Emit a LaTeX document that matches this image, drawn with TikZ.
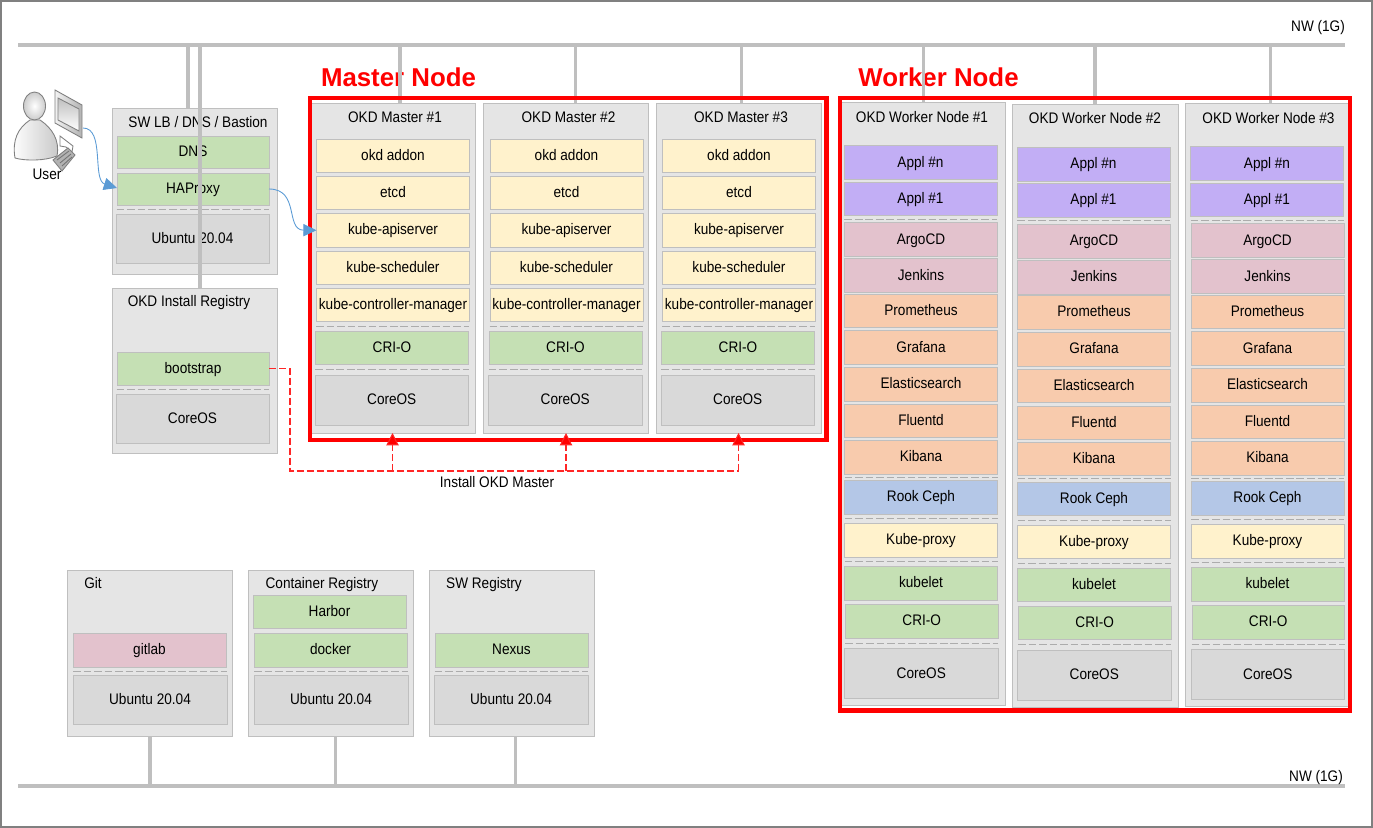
\documentclass[tikz,border=0pt]{standalone}
\usepackage{fontspec}
\setmainfont{Liberation Sans}[FakeStretch=0.89]
\newfontfamily\titlefont{Liberation Sans}
\usepackage{tikz}
\usetikzlibrary{calc,arrows.meta}
\definecolor{lineGray}{HTML}{BFBFBF}
\definecolor{groupGray}{HTML}{E5E5E5}
\definecolor{osGray}{HTML}{D9D9D9}
\definecolor{addonYellow}{HTML}{FFF2CC}
\definecolor{runGreen}{HTML}{C5E0B4}
\definecolor{applPurple}{HTML}{C2AEF5}
\definecolor{toolPink}{HTML}{E3C2CD}
\definecolor{logOrange}{HTML}{F8CBAD}
\definecolor{cephBlue}{HTML}{B4C7E7}
\definecolor{arrowBlue}{HTML}{5B9BD5}
% box from corner (x1,y1) to corner (x2,y2)
\newcommand{\boxcell}[7]{\node[#1,minimum width={(#5-#3)*0.02cm},minimum height={(#6-#4)*0.02cm}] (#2) at ({(#3+#5)/2},{(#4+#6)/2}) {#7};}
% dashed line half way between two stacked boxes
\newcommand{\sepline}[2]{\draw[sepline] ($(#1.south west)!.5!(#2.north west)$) -- ($(#1.south east)!.5!(#2.north east)$);}
\begin{document}
\begin{tikzpicture}[
  x=0.02cm,y=-0.02cm,
  cell/.style={
    rectangle,
    draw=lineGray,
    line width=0.5pt,
    inner sep=0pt,
    outer sep=0pt,
    align=center,
    font=\fontsize{8.7}{10}\selectfont,
    text height=.72em,
    text depth=.2em
  },
  group/.style={cell,fill=groupGray},
  yellow/.style={cell,fill=addonYellow},
  green/.style={cell,fill=runGreen},
  os/.style={cell,fill=osGray},
  purple/.style={cell,fill=applPurple},
  pink/.style={cell,fill=toolPink},
  orange/.style={cell,fill=logOrange},
  ceph/.style={cell,fill=cephBlue},
  boxtitle/.style={inner sep=0pt,font=\fontsize{8.7}{10}\selectfont,text height=.72em,text depth=.2em},
  redtitle/.style={inner sep=0pt,text=red,font=\titlefont\fontsize{14.7}{16}\selectfont\bfseries},
  redframe/.style={rectangle,draw=red,line width=2.3pt,inner sep=0pt},
  nwbus/.style={draw=lineGray,line width=2.2pt},
  nwdrop/.style={draw=lineGray,line width=1.8pt},
  sepline/.style={draw=lineGray!90!black,line width=0.5pt,dash pattern=on 4.4pt off 1.6pt},
  userflow/.style={draw=arrowBlue,line width=0.5pt,-{Triangle[length=7.5pt,width=7pt,fill=arrowBlue]}},
  install/.style={draw=red!85!white,line width=0.6pt,dash pattern=on 4pt off 1.7pt},
  icon/.style={draw=black!50,line width=0.5pt}
 ]
 \useasboundingbox (0,0) rectangle (1373,828);
 \node[rectangle,draw=black!50,line width=1.5pt,minimum width=27.42cm,minimum height=16.52cm,inner sep=0pt] (page) at (686.5,414) {};

 %user
 \shade[icon,left color=black!5,right color=black!30] (55,90) -- (82,105) -- (82,138) -- (55,123) -- cycle;
 \shade[icon,top color=black!25,bottom color=white] (58,98) -- (79,109) -- (79,131) -- (58,120) -- cycle;
 \draw[icon,fill=white] (60,136) -- (73,146) -- (72,152) -- (66,147) -- (60,146) -- cycle;
 \draw[icon,fill=black!30] (53,160) -- (68,148) -- (75,155) -- (62,171) -- cycle;
 \draw[black!55,line width=0.5pt] (57,160) -- (69,151) (60,163) -- (71,154) (62,166) -- (72,157);
 \shade[icon,left color=white,right color=black!22] (15,158) .. controls (12,140) and (18,128) .. (30,120) -- (40,120) .. controls (52,128) and (60,140) .. (57,156) .. controls (45,161) and (25,161) .. (15,158) -- cycle;
 \shade[icon,inner color=white,outer color=black!20] (34.5,106) ellipse (11 and 14);
 \coordinate (usericon) at (83,128);
 \node[boxtitle] (user) at (47,175) {User};

 %lb
 \boxcell{group}{lb}{112}{108}{277}{274}{}
 \node[boxtitle] (lbtitle) at (198,123) {SW LB / DNS / Bastion};
 \boxcell{green}{dns}{117}{136}{269}{168}{DNS}
 \boxcell{green}{haproxy}{117}{173}{269}{205}{HAProxy}
 \boxcell{os}{lbos}{116}{214}{269}{263}{Ubuntu 20.04}
 \sepline{haproxy}{lbos}

 %install registry
 \boxcell{group}{registry}{112}{288}{277}{453}{}
 \node[boxtitle] (registrytitle) at (189,302) {OKD Install Registry};
 \boxcell{green}{bootstrap}{117}{352}{269}{385}{bootstrap}
 \boxcell{os}{registryos}{116}{394}{269}{443}{CoreOS}
 \sepline{bootstrap}{registryos}

 %master
 \foreach \n/\dx in {1/0,2/173.5,3/346}{
  \begin{scope}[shift={(\dx,0)}]
   \boxcell{group}{m\n}{310}{103}{475}{433}{}
   \node[boxtitle] (m\n title) at (395,118) {OKD Master \#\n};
   \boxcell{yellow}{m\n addon}{316.5}{139}{469.5}{172}{okd addon}
   \boxcell{yellow}{m\n etcd}{316.5}{176.5}{469.5}{209}{etcd}
   \boxcell{yellow}{m\n api}{316.5}{213.5}{469.5}{247}{kube-apiserver}
   \boxcell{yellow}{m\n sched}{316.5}{251.5}{469.5}{284}{kube-scheduler}
   \boxcell{yellow}{m\n ctl}{316.5}{288.5}{469.5}{321.5}{kube-controller-manager}
   \boxcell{green}{m\n cri}{315.5}{331.5}{468.5}{364.5}{CRI-O}
   \boxcell{os}{m\n os}{315}{375}{468.5}{425}{CoreOS}
   \sepline{m\n ctl}{m\n cri}
   \sepline{m\n cri}{m\n os}
  \end{scope}
 }

 %worker
 \foreach \n/\dx/\dy in {1/-173/-1.5,2/0/0,3/173.5/-0.5}{
  \begin{scope}[shift={(\dx,\dy)}]
   \boxcell{group}{w\n}{1012}{104}{1178}{707}{}
   \node[boxtitle] (w\n title) at (1095,119) {OKD Worker Node \#\n};
   \boxcell{purple}{w\n appn}{1017}{147}{1170}{181}{Appl \#n}
   \boxcell{purple}{w\n appa}{1017}{183.5}{1170}{217}{Appl \#1}
   \boxcell{pink}{w\n argo}{1017.5}{224}{1170.5}{258}{ArgoCD}
   \boxcell{pink}{w\n jenkins}{1017.5}{260}{1170.5}{294}{Jenkins}
   \boxcell{orange}{w\n prom}{1017.5}{295.5}{1170.5}{329}{Prometheus}
   \boxcell{orange}{w\n grafana}{1017.5}{332}{1170.5}{366}{Grafana}
   \boxcell{orange}{w\n elastic}{1017.5}{369}{1170.5}{402.5}{Elasticsearch}
   \boxcell{orange}{w\n fluent}{1017.5}{406}{1170.5}{439}{Fluentd}
   \boxcell{orange}{w\n kibana}{1017.5}{442}{1170.5}{475.5}{Kibana}
   \boxcell{ceph}{w\n rook}{1017.5}{482}{1170.5}{515.5}{Rook Ceph}
   \boxcell{yellow}{w\n proxy}{1017.5}{525}{1170.5}{558.5}{Kube-proxy}
   \boxcell{green}{w\n kubelet}{1017.5}{568}{1170.5}{601.5}{kubelet}
   \boxcell{green}{w\n cri}{1018.5}{606}{1171}{639.5}{CRI-O}
   \boxcell{os}{w\n os}{1017.5}{650}{1171}{700}{CoreOS}
   \sepline{w\n appa}{w\n argo}
   \sepline{w\n kibana}{w\n rook}
   \sepline{w\n rook}{w\n proxy}
   \sepline{w\n proxy}{w\n kubelet}
   \sepline{w\n cri}{w\n os}
  \end{scope}
 }

 %git
 \boxcell{group}{git}{67.5}{570}{232.5}{736}{}
 \node[boxtitle] (gittitle) at (93,584) {Git};
 \boxcell{pink}{gitlab}{73}{633}{226}{667}{gitlab}
 \boxcell{os}{gitos}{73}{675}{227}{724}{Ubuntu 20.04}
 \sepline{gitlab}{gitos}

 %container registry
 \boxcell{group}{container}{248}{570}{413.5}{736}{}
 \node[boxtitle] (containertitle) at (322,584) {Container Registry};
 \boxcell{green}{harbor}{253}{595}{406}{628.5}{Harbor}
 \boxcell{green}{docker}{254}{633}{407}{667}{docker}
 \boxcell{os}{containeros}{254}{675}{408}{724}{Ubuntu 20.04}
 \sepline{docker}{containeros}

 %sw registry
 \boxcell{group}{swreg}{429.5}{570}{594.5}{736}{}
 \node[boxtitle] (swregtitle) at (484,584) {SW Registry};
 \boxcell{green}{nexus}{435}{633}{588}{667}{Nexus}
 \boxcell{os}{swregos}{434}{675}{588}{724}{Ubuntu 20.04}
 \sepline{nexus}{swregos}

 %titles
 \node[redtitle] (mastertitle) at (398.5,77) {Master Node};
 \node[redtitle] (workertitle) at (938.5,77) {Worker Node};

 %nw top
 \coordinate (nwa) at (18,45);
 \coordinate (nwb) at (1345,45);
 \draw[nwbus] (nwa) -- (nwb);
 \node[boxtitle] (nwtop) at (1318,27) {NW (1G)};
 \coordinate (ta) at (188,45);
 \coordinate (tb) at (200,45);
 \coordinate (tc) at (400,45);
 \coordinate (td) at (575.5,45);
 \coordinate (te) at (741.5,45);
 \coordinate (tf) at (923.5,45);
 \coordinate (tg) at (1095,45);
 \coordinate (th) at (1270.5,45);
 \draw[nwdrop] (ta) -- (ta |- lb.north);
 \draw[nwdrop] (tb) -- (tb |- registry.north);
 \draw[nwdrop] (tc) -- (tc |- m1.north);
 \draw[nwdrop] (td) -- (td |- m2.north);
 \draw[nwdrop] (te) -- (te |- m3.north);
 \draw[nwdrop] (tf) -- (tf |- w1.north);
 \draw[nwdrop] (tg) -- (tg |- w2.north);
 \draw[nwdrop] (th) -- (th |- w3.north);

 %nw bottom
 \coordinate (nwc) at (18,786);
 \coordinate (nwd) at (1345,786);
 \draw[nwbus] (nwc) -- (nwd);
 \node[boxtitle] (nwbottom) at (1316,777) {NW (1G)};
 \coordinate (ba) at (150,786);
 \coordinate (bb) at (335.5,786);
 \coordinate (bc) at (515.5,786);
 \draw[nwdrop] (ba |- git.south) -- (ba);
 \draw[nwdrop] (bb |- container.south) -- (bb);
 \draw[nwdrop] (bc |- swreg.south) -- (bc);

 %frames
 \boxcell{redframe}{masterframe}{310}{98}{826.5}{440}{}
 \boxcell{redframe}{workerframe}{840}{98}{1350}{710.5}{}

 %arrows
 \coordinate (haproxyin) at (haproxy.west |- 0,188);
 \draw[userflow] (usericon) .. controls (105,128) and (92,180) .. (haproxyin);
 \draw[userflow] (haproxy.east) .. controls (300,189) and (285,230) .. (m1api.west);

 %install
 \coordinate (installbus) at (290,471);
 \draw[install] (bootstrap.east) -| (installbus) -- (m3.south |- installbus);
 \foreach \n in {1,2,3}{
  \draw[install,-{Triangle[length=7pt,width=7pt,fill=red]}] (m\n.south |- installbus) -- (m\n.south);
 }
 \node[boxtitle] (installlabel) at (497,483) {Install OKD Master};
\end{tikzpicture}
\end{document}
